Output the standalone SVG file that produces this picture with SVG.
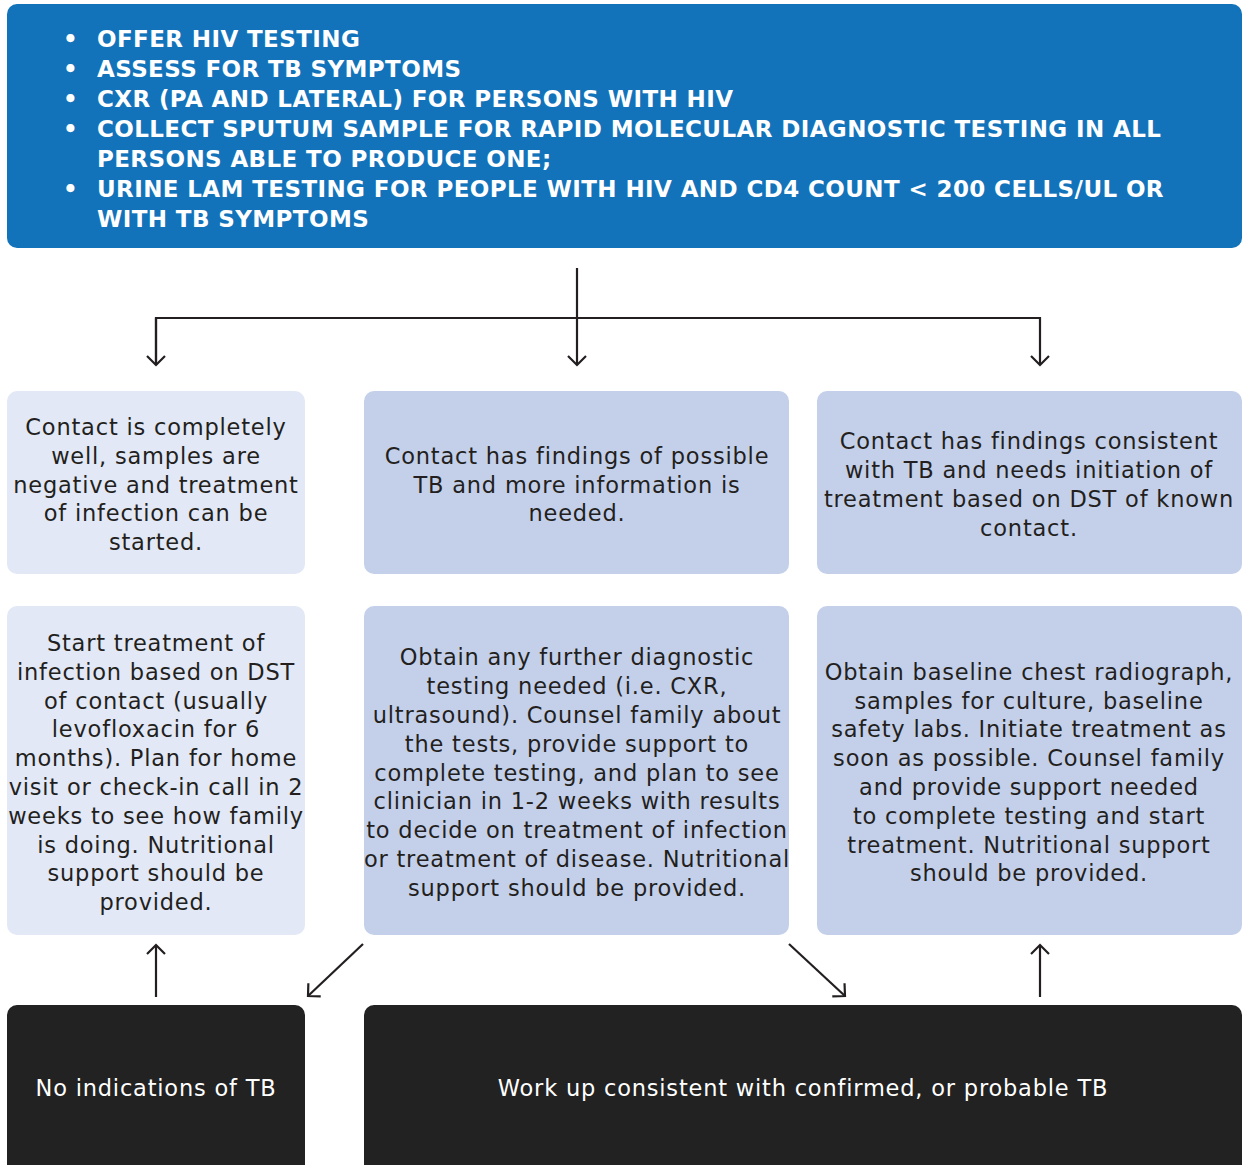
<svg xmlns="http://www.w3.org/2000/svg" width="1242" height="1165" viewBox="0 0 1242 1165">
<style>
.hdr{font-family:"DejaVu Sans","Liberation Sans",sans-serif;font-weight:bold;font-size:23px;letter-spacing:0.4px;fill:#fff}
.t{font-family:"DejaVu Sans","Liberation Sans",sans-serif;font-size:22.5px;letter-spacing:0.8px;fill:#231f20;text-anchor:middle}
.w{font-family:"DejaVu Sans","Liberation Sans",sans-serif;font-size:22.5px;letter-spacing:0.8px;fill:#fff;text-anchor:middle}
.light{fill:#e2e8f5}
.mid{fill:#c4d0ea}
.dark{fill:#222222}
.c{stroke:#231f20;stroke-width:2.2;fill:none}
</style>
<defs>
<marker id="ah" viewBox="0 0 20 20" refX="10" refY="10" markerWidth="20" markerHeight="20" markerUnits="userSpaceOnUse" orient="auto">
<path d="M1,1 L10,10 L1,19" fill="none" stroke="#231f20" stroke-width="2.2"/>
</marker>
</defs>
<rect width="1242" height="1165" fill="#fff"/>
<g id="top">
<rect x="7" y="4" width="1235" height="244" rx="10" fill="#1373ba"/>
<text class="hdr"><tspan x="63" y="47">•</tspan><tspan x="97" y="47">OFFER HIV TESTING</tspan>
<tspan x="63" y="77">•</tspan><tspan x="97" y="77">ASSESS FOR TB SYMPTOMS</tspan>
<tspan x="63" y="107">•</tspan><tspan x="97" y="107">CXR (PA AND LATERAL) FOR PERSONS WITH HIV</tspan>
<tspan x="63" y="137">•</tspan><tspan x="97" y="137">COLLECT SPUTUM SAMPLE FOR RAPID MOLECULAR DIAGNOSTIC TESTING IN ALL</tspan>
<tspan x="97" y="167">PERSONS ABLE TO PRODUCE ONE;</tspan>
<tspan x="63" y="197">•</tspan><tspan x="97" y="197">URINE LAM TESTING FOR PEOPLE WITH HIV AND CD4 COUNT &lt; 200 CELLS/UL OR</tspan>
<tspan x="97" y="227">WITH TB SYMPTOMS</tspan></text>
</g>
<g id="well">
<rect class="light" x="7" y="391" width="298" height="183" rx="10"/>
<text class="t"><tspan x="156" y="435">Contact is completely</tspan><tspan x="156" y="464">well, samples are</tspan><tspan x="156" y="493">negative and treatment</tspan><tspan x="156" y="521">of infection can be</tspan><tspan x="156" y="550">started.</tspan></text>
</g>
<g id="possible">
<rect class="mid" x="364" y="391" width="425" height="183" rx="10"/>
<text class="t"><tspan x="577" y="464">Contact has findings of possible</tspan><tspan x="577" y="493">TB and more information is</tspan><tspan x="577" y="521">needed.</tspan></text>
</g>
<g id="consistent">
<rect class="mid" x="817" y="391" width="425" height="183" rx="10"/>
<text class="t"><tspan x="1029" y="449">Contact has findings consistent</tspan><tspan x="1029" y="478">with TB and needs initiation of</tspan><tspan x="1029" y="507">treatment based on DST of known</tspan><tspan x="1029" y="536">contact.</tspan></text>
</g>
<g id="start">
<rect class="light" x="7" y="606" width="298" height="329" rx="10"/>
<text class="t"><tspan x="156" y="651">Start treatment of</tspan><tspan x="156" y="680">infection based on DST</tspan><tspan x="156" y="709">of contact (usually</tspan><tspan x="156" y="737">levofloxacin for 6</tspan><tspan x="156" y="766">months).  Plan for home</tspan><tspan x="156" y="795">visit or check-in call  in 2</tspan><tspan x="156" y="824">weeks to see how family</tspan><tspan x="156" y="853">is doing. Nutritional</tspan><tspan x="156" y="881">support should be</tspan><tspan x="156" y="910">provided.</tspan></text>
</g>
<g id="further">
<rect class="mid" x="364" y="606" width="425" height="329" rx="10"/>
<text class="t"><tspan x="577" y="665">Obtain any further diagnostic</tspan><tspan x="577" y="694">testing needed (i.e. CXR,</tspan><tspan x="577" y="723">ultrasound). Counsel family about</tspan><tspan x="577" y="752">the tests, provide support to</tspan><tspan x="577" y="781">complete testing, and plan to see</tspan><tspan x="577" y="809">clinician in 1-2 weeks with results</tspan><tspan x="577" y="838">to decide on treatment of infection</tspan><tspan x="577" y="867">or treatment of disease. Nutritional</tspan><tspan x="577" y="896">support should be provided.</tspan></text>
</g>
<g id="baseline">
<rect class="mid" x="817" y="606" width="425" height="329" rx="10"/>
<text class="t"><tspan x="1029" y="680">Obtain baseline chest radiograph,</tspan><tspan x="1029" y="709">samples for culture, baseline</tspan><tspan x="1029" y="737">safety labs.  Initiate treatment as</tspan><tspan x="1029" y="766">soon as possible. Counsel family</tspan><tspan x="1029" y="795">and provide support needed</tspan><tspan x="1029" y="824">to complete testing and start</tspan><tspan x="1029" y="853">treatment. Nutritional support</tspan><tspan x="1029" y="881">should be provided.</tspan></text>
</g>
<g id="noTB">
<rect class="dark" x="7" y="1005" width="298" height="175" rx="10"/>
<text class="w" x="156" y="1096">No indications of TB</text>
</g>
<g id="workup">
<rect class="dark" x="364" y="1005" width="878" height="175" rx="10"/>
<text class="w" x="803" y="1096">Work up consistent with confirmed, or probable TB</text>
</g>
<g id="connectors">
<path class="c" d="M577,268 V365" marker-end="url(#ah)"/>
<path class="c" d="M156,365 V318 H1040 V365" marker-end="url(#ah)"/>
<path class="c" d="M156,318 V365" marker-end="url(#ah)"/>
<path class="c" d="M156,997 V945" marker-end="url(#ah)"/>
<path class="c" d="M1040,997 V945" marker-end="url(#ah)"/>
<path class="c" d="M363,944 L308,996" marker-end="url(#ah)"/>
<path class="c" d="M789,944 L845,996" marker-end="url(#ah)"/>
</g>
</svg>
